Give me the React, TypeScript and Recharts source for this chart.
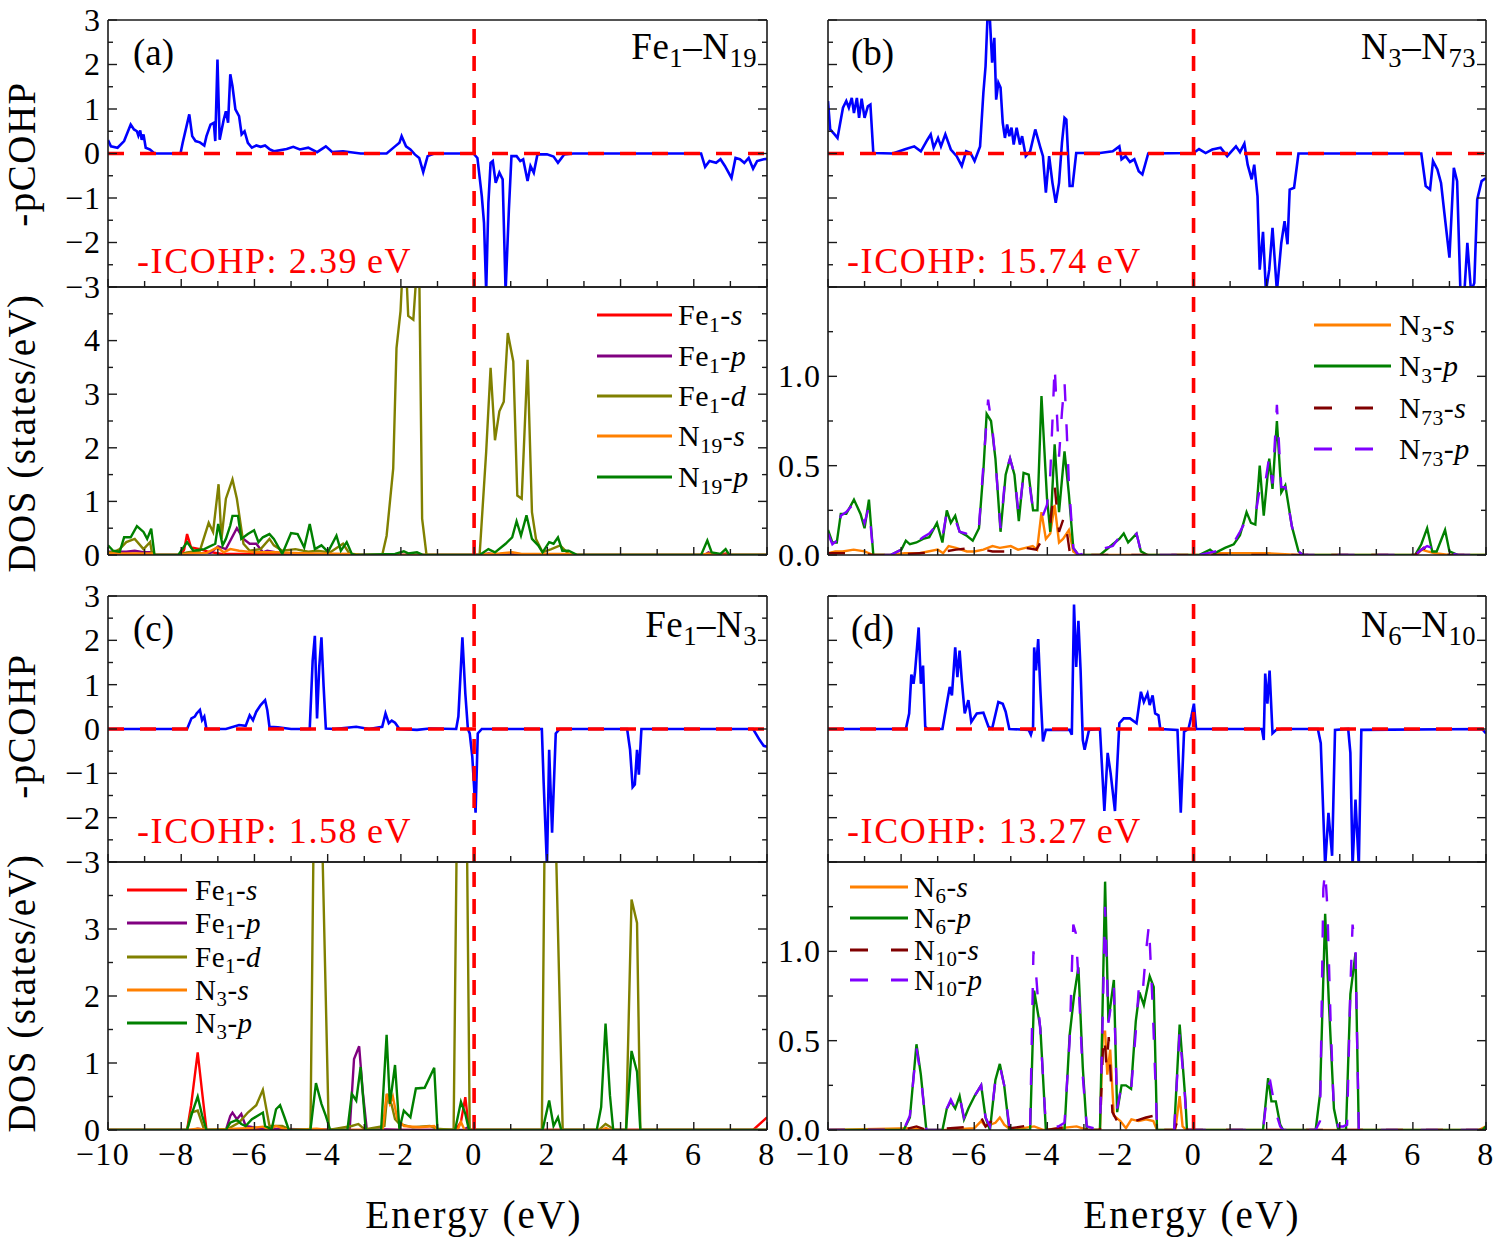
import React from 'react';
import { LineChart, Line, XAxis, YAxis, ReferenceLine } from 'recharts';

type Pt = [number, number];

// ---------- data (energy eV, value) ----------
const X_TICKS = [-10, -9, -8, -7, -6, -5, -4, -3, -2, -1, 0, 1, 2, 3, 4, 5, 6, 7, 8];
const COHP_TICKS = [-3, -2.5, -2, -1.5, -1, -0.5, 0, 0.5, 1, 1.5, 2, 2.5, 3];
const COHP_MAJOR = [-3, -2, -1, 0, 1, 2, 3];
const DOS_A_TICKS = [0, 0.5, 1, 1.5, 2, 2.5, 3, 3.5, 4, 4.5, 5];
const DOS_A_LABELS = [0, 1, 2, 3, 4];
const DOS_C_TICKS = [0, 0.5, 1, 1.5, 2, 2.5, 3, 3.5, 4];
const DOS_C_LABELS = [0, 1, 2, 3];
const DOS_N_TICKS = [0, 0.25, 0.5, 0.75, 1, 1.25, 1.5];
const DOS_N_MAJOR = [0, 0.5, 1, 1.5];
const DOS_N_LABELS = [0, 0.5, 1];

const COHP_A: Pt[] = [[-10,0.30],[-9.92,0.16],[-9.74,0.13],[-9.56,0.28],[-9.38,0.65],[-9.29,0.54],[-9.21,0.50],[-9.17,0.40],[-9.12,0.52],[-9.08,0.31],[-9.03,0.43],[-8.97,0.13],[-8.85,0.09],[-8.73,0],[-8.02,0],[-7.96,0.24],[-7.78,0.88],[-7.70,0.39],[-7.61,0.28],[-7.49,0.25],[-7.37,0.18],[-7.31,0.39],[-7.20,0.65],[-7.11,0.69],[-7.07,0.28],[-7.01,2.11],[-6.95,0.31],[-6.84,0.76],[-6.78,0.95],[-6.72,0.69],[-6.66,1.78],[-6.60,1.51],[-6.52,0.99],[-6.42,0.84],[-6.35,0.43],[-6.27,0.50],[-6.18,0.24],[-6.07,0.13],[-5.95,0.18],[-5.83,0.15],[-5.71,0.18],[-5.59,0.10],[-5.47,0.05],[-5.12,0.10],[-4.94,0.15],[-4.76,0.09],[-4.53,0.13],[-4.29,0.03],[-4.05,0.16],[-3.87,0.03],[-3.58,0.05],[-3.10,0],[-2.39,0],[-2.16,0.16],[-2.04,0.24],[-1.98,0.39],[-1.86,0.16],[-1.74,0.09],[-1.62,-0.02],[-1.50,-0.10],[-1.39,-0.42],[-1.27,-0.06],[-1.09,0],[-0.02,0],[0.09,-0.10],[0.21,-0.96],[0.27,-1.56],[0.33,-3.1],[0.39,-1.11],[0.45,-0.21],[0.51,-0.17],[0.59,-0.66],[0.69,-0.43],[0.78,-0.58],[0.86,-3.1],[0.95,-1.26],[1.02,-0.06],[1.16,-0.06],[1.26,-0.17],[1.34,-0.13],[1.46,-0.62],[1.54,-0.28],[1.63,-0.43],[1.73,-0.02],[1.99,-0.02],[2.17,-0.07],[2.29,-0.21],[2.46,-0.02],[2.70,0],[6.20,0],[6.31,-0.30],[6.43,-0.17],[6.61,-0.21],[6.73,-0.13],[6.85,-0.28],[7.03,-0.55],[7.14,-0.10],[7.26,-0.13],[7.38,-0.21],[7.50,-0.10],[7.62,-0.34],[7.73,-0.17],[7.91,-0.13],[8.0,-0.12]];

const COHP_B: Pt[] = [[-10,1.18],[-9.94,0.54],[-9.82,0.43],[-9.74,0.35],[-9.65,0.76],[-9.59,1.03],[-9.50,1.18],[-9.43,1.03],[-9.35,1.25],[-9.29,0.91],[-9.21,1.25],[-9.15,0.80],[-9.08,1.23],[-9.00,0.80],[-8.91,1.06],[-8.84,1.10],[-8.76,0.01],[-8.23,0],[-7.87,0.10],[-7.64,0.16],[-7.46,0.05],[-7.28,0.31],[-7.19,0.43],[-7.11,0.13],[-6.99,0.35],[-6.91,0.16],[-6.79,0.43],[-6.64,0.09],[-6.48,-0.06],[-6.34,-0.28],[-6.22,0.05],[-6.10,0.01],[-5.99,-0.17],[-5.84,0.16],[-5.75,1.36],[-5.69,1.96],[-5.63,3.2],[-5.57,3.0],[-5.51,2.04],[-5.45,2.60],[-5.40,1.21],[-5.34,1.59],[-5.28,1.48],[-5.22,0.69],[-5.16,0.35],[-5.10,0.65],[-5.04,0.39],[-4.98,0.58],[-4.92,0.20],[-4.84,0.58],[-4.75,0.20],[-4.69,0.39],[-4.59,-0.06],[-4.47,0.05],[-4.33,0.54],[-4.19,0.13],[-4.12,-0.06],[-4.04,-0.88],[-3.95,-0.06],[-3.86,-0.66],[-3.77,-1.11],[-3.68,-0.66],[-3.60,0.24],[-3.53,0.80],[-3.48,0.76],[-3.39,-0.73],[-3.31,-0.73],[-3.21,0.01],[-2.56,0.01],[-2.21,0.05],[-2.03,0.16],[-1.97,-0.13],[-1.86,-0.06],[-1.74,-0.19],[-1.62,-0.13],[-1.50,-0.40],[-1.40,-0.47],[-1.24,0],[0,0.01],[0.15,0.10],[0.33,0.01],[0.51,0.09],[0.74,0.13],[0.92,-0.06],[1.16,0.16],[1.27,0.03],[1.39,0.22],[1.48,-0.25],[1.59,-0.58],[1.66,-0.25],[1.75,-0.96],[1.81,-2.61],[1.90,-1.76],[1.98,-3.1],[2.07,-2.61],[2.16,-1.67],[2.28,-3.1],[2.40,-2.01],[2.49,-1.52],[2.57,-2.04],[2.63,-0.81],[2.75,-0.77],[2.87,0],[6.23,0],[6.35,-0.73],[6.47,-0.81],[6.55,-0.17],[6.67,-0.36],[6.77,-0.66],[6.86,-1.33],[7.00,-2.34],[7.12,-0.32],[7.21,-0.62],[7.30,-3.1],[7.41,-3.1],[7.49,-2.01],[7.59,-3.1],[7.68,-2.91],[7.76,-1.03],[7.88,-0.62],[8.0,-0.55]];

const COHP_C: Pt[] = [[-10,0],[-7.84,0],[-7.72,0.24],[-7.63,0.28],[-7.58,0.35],[-7.49,0.43],[-7.43,0.20],[-7.37,0.28],[-7.31,0],[-6.78,0],[-6.42,0.09],[-6.24,0.07],[-6.13,0.31],[-6.04,0.20],[-5.95,0.39],[-5.83,0.54],[-5.71,0.65],[-5.65,0.43],[-5.59,0.05],[-5.36,0.04],[-5.00,0],[-4.49,0],[-4.41,1.54],[-4.35,2.10],[-4.29,0.24],[-4.23,1.40],[-4.17,2.07],[-4.11,0.95],[-4.05,0.01],[-3.82,0],[-3.22,0.05],[-2.87,0],[-2.51,0.05],[-2.42,0.35],[-2.33,0.13],[-2.25,0.19],[-2.16,0.14],[-2.04,0],[-1.56,-0.02],[-1.21,0.01],[-0.49,0],[-0.43,0.28],[-0.32,2.07],[-0.24,0.80],[-0.17,0],[-0.12,-0.10],[-0.05,-0.62],[0.04,-1.89],[0.10,-0.10],[0.21,0],[1.85,0],[1.90,-1.22],[1.99,-3.1],[2.05,-0.47],[2.13,-2.34],[2.23,-0.10],[2.34,0],[4.18,0],[4.26,-0.47],[4.33,-1.31],[4.39,-1.25],[4.45,-0.47],[4.50,-1.03],[4.57,0],[7.62,0],[7.80,-0.25],[7.91,-0.38],[8.0,-0.40]];

const COHP_D: Pt[] = [[-10,0],[-7.87,0],[-7.78,0.35],[-7.72,1.23],[-7.66,1.02],[-7.62,1.28],[-7.52,2.29],[-7.46,1.02],[-7.40,1.43],[-7.34,0.05],[-7.28,0],[-6.87,0],[-6.75,0.57],[-6.67,0.95],[-6.61,0.76],[-6.52,1.84],[-6.46,1.17],[-6.40,1.77],[-6.34,1.10],[-6.26,0.35],[-6.16,0.65],[-6.08,0.16],[-5.93,0.35],[-5.75,0.37],[-5.61,0.05],[-5.51,0.01],[-5.34,0.61],[-5.22,0.57],[-5.14,0.39],[-5.04,0],[-4.51,-0.02],[-4.45,-0.13],[-4.39,0.05],[-4.36,1.84],[-4.31,1.32],[-4.25,2.03],[-4.19,0.87],[-4.12,-0.28],[-4.04,-0.02],[-3.39,-0.02],[-3.33,-0.13],[-3.27,2.81],[-3.21,1.40],[-3.15,2.44],[-3.09,1.32],[-3.03,-0.25],[-2.98,-0.47],[-2.86,-0.02],[-2.56,0],[-2.44,-1.85],[-2.35,-0.54],[-2.27,-0.99],[-2.15,-1.85],[-2.03,0.13],[-1.91,0.24],[-1.74,0.24],[-1.56,0.13],[-1.44,0.84],[-1.36,0.61],[-1.26,0.80],[-1.20,0.54],[-1.12,0.76],[-1.05,0.35],[-0.96,0.31],[-0.91,0],[-0.44,-0.02],[-0.35,-1.89],[-0.26,-0.06],[-0.14,0],[-0.06,0.28],[0.01,0.57],[0.07,0],[1.87,0],[1.92,-0.25],[1.96,1.25],[2.02,0.57],[2.08,1.32],[2.16,-0.10],[2.26,-0.02],[2.40,0],[3.40,0],[3.48,-0.32],[3.60,-3.1],[3.69,-1.89],[3.79,-2.86],[3.87,-0.02],[4.23,0],[4.29,-0.54],[4.35,-3.1],[4.43,-1.59],[4.52,-3.1],[4.59,-0.02],[7.89,0],[8.0,-0.10]];

// DOS (a)
const FE_S_A: Pt[] = [[-10,0.02],[-8.8,0.02],[-8.73,0],[-8.0,0],[-7.92,0.1],[-7.84,0.39],[-7.73,0.14],[-7.49,0.11],[-7.25,0.06],[-6.9,0.02],[-6.0,0.02],[-5.2,0.01],[-3.3,0],[6.3,0],[6.45,0.04],[6.6,0],[6.9,0.03],[7.0,0],[8,0]];
const FE_P_A: Pt[] = [[-10,0.06],[-9.5,0.06],[-9.27,0.08],[-9.0,0.05],[-8.8,0.05],[-8.73,0],[-8.0,0],[-7.8,0.03],[-7.2,0.04],[-6.99,0.16],[-6.78,0.11],[-6.48,0.50],[-6.30,0.30],[-6.13,0.21],[-5.95,0.21],[-5.77,0.05],[-5.65,0.08],[-5.24,0.03],[-4.5,0.02],[-3.3,0],[0.2,0],[0.4,0.03],[0.6,0],[1.0,0.03],[1.2,0],[6.3,0],[6.4,0.05],[6.55,0],[8,0]];
const FE_D_A: Pt[] = [[-10,0.05],[-9.86,0.05],[-9.68,0.11],[-9.50,0.24],[-9.27,0.30],[-9.03,0.11],[-8.85,0.24],[-8.79,0],[-8.08,0],[-7.84,0.05],[-7.49,0.08],[-7.25,0.60],[-7.13,0.43],[-6.98,1.32],[-6.90,0.30],[-6.78,1.05],[-6.60,1.41],[-6.48,1.05],[-6.30,0.21],[-6.13,0.08],[-5.83,0.11],[-5.59,0.30],[-5.47,0.18],[-5.24,0.08],[-4.88,0.11],[-4.53,0.06],[-4.29,0.08],[-3.93,0.05],[-3.58,0.21],[-3.40,0.02],[-3.10,0],[-2.51,0],[-2.39,0.36],[-2.21,1.61],[-2.12,3.86],[-2.01,4.55],[-1.95,5.4],[-1.86,5.4],[-1.80,4.46],[-1.66,4.39],[-1.56,5.4],[-1.50,5.4],[-1.42,0.68],[-1.30,0],[0.15,0],[0.33,1.93],[0.45,3.49],[0.57,2.14],[0.69,2.68],[0.81,2.86],[0.92,4.14],[1.07,3.61],[1.18,1.11],[1.30,1.05],[1.46,3.64],[1.58,0.80],[1.69,0.30],[1.87,0.05],[2.11,0.11],[2.35,0.18],[2.58,0.02],[2.82,0],[8,0]];
const N19_S_A: Pt[] = [[-10,0.03],[-8.8,0.03],[-8.73,0],[-8.0,0],[-7.8,0.03],[-7.3,0.04],[-7.01,0.14],[-6.84,0.05],[-6.66,0.11],[-6.42,0.08],[-6.0,0.05],[-5.47,0.05],[-4.5,0.03],[-3.3,0.02],[-3.1,0],[0.15,0],[0.3,0.02],[0.7,0.03],[1.04,0.05],[1.3,0.02],[2.6,0.02],[2.8,0],[6.2,0],[6.4,0.03],[6.6,0],[8,0]];
const N19_P_A: Pt[] = [[-10,0.18],[-9.86,0.08],[-9.68,0.06],[-9.56,0.33],[-9.38,0.33],[-9.21,0.54],[-9.03,0.43],[-8.93,0.30],[-8.82,0.49],[-8.73,0],[-8.08,0],[-7.84,0.24],[-7.67,0.08],[-7.37,0.11],[-7.07,0.21],[-6.99,0.58],[-6.87,0.18],[-6.78,0.30],[-6.66,0.55],[-6.60,0.73],[-6.45,0.73],[-6.36,0.30],[-6.18,0.39],[-6.01,0.46],[-5.89,0.24],[-5.77,0.33],[-5.59,0.39],[-5.47,0.30],[-5.24,0.02],[-5.00,0.41],[-4.82,0.39],[-4.64,0.14],[-4.49,0.58],[-4.35,0.11],[-4.17,0.18],[-3.99,0.06],[-3.76,0.36],[-3.64,0.08],[-3.48,0.24],[-3.34,0.02],[-3.22,0],[-2.16,0.02],[-1.92,0.07],[-1.80,0.03],[-1.56,0.05],[-1.39,0],[0.15,0],[0.39,0.11],[0.57,0.05],[0.86,0.21],[1.04,0.33],[1.16,0.63],[1.28,0.36],[1.43,0.74],[1.58,0.30],[1.75,0.18],[1.87,0.05],[2.05,0.24],[2.17,0.21],[2.29,0.33],[2.41,0.08],[2.58,0.08],[2.82,0],[6.20,0],[6.37,0.27],[6.49,0.05],[6.73,0.02],[6.87,0.11],[6.97,0],[8,0]];

// DOS (b)
const N3_S_B: Pt[] = [[-10,0.01],[-9.8,0.02],[-9.6,0.02],[-9.3,0.03],[-9.0,0.02],[-8.76,0],[-8.3,0],[-7.9,0.01],[-7.5,0.01],[-7.0,0.03],[-6.85,0.01],[-6.7,0.05],[-6.5,0.04],[-6.2,0.02],[-6.0,0.02],[-5.75,0.03],[-5.5,0.05],[-5.3,0.04],[-5.0,0.05],[-4.8,0.03],[-4.6,0.04],[-4.4,0.05],[-4.28,0.03],[-4.16,0.24],[-4.04,0.09],[-3.92,0.12],[-3.80,0.28],[-3.68,0.07],[-3.57,0.09],[-3.41,0.14],[-3.29,0.02],[-3.15,0],[0.15,0],[0.5,0.01],[1.0,0.01],[2.0,0.01],[2.9,0],[6.1,0],[6.23,0.03],[6.4,0.02],[6.6,0.01],[7.0,0],[8,0]];
const N3_P_B: Pt[] = [[-10,0.14],[-9.88,0.07],[-9.76,0.07],[-9.65,0.23],[-9.50,0.23],[-9.29,0.31],[-9.11,0.23],[-9.00,0.15],[-8.88,0.31],[-8.76,0],[-8.29,0],[-7.99,0.03],[-7.87,0.08],[-7.76,0.06],[-7.58,0.07],[-7.40,0.09],[-7.23,0.10],[-7.02,0.18],[-6.87,0.07],[-6.75,0.25],[-6.64,0.18],[-6.52,0.22],[-6.40,0.13],[-6.22,0.11],[-6.04,0.08],[-5.87,0.15],[-5.75,0.47],[-5.66,0.79],[-5.54,0.75],[-5.42,0.54],[-5.28,0.13],[-5.14,0.45],[-5.02,0.54],[-4.90,0.45],[-4.78,0.19],[-4.65,0.46],[-4.51,0.45],[-4.39,0.25],[-4.27,0.25],[-4.16,0.89],[-4.01,0.32],[-3.92,0.13],[-3.80,0.62],[-3.68,0.24],[-3.53,0.58],[-3.41,0.34],[-3.29,0.04],[-3.15,0],[-2.56,0],[-2.21,0.06],[-2.03,0.09],[-1.91,0.12],[-1.79,0.07],[-1.56,0.12],[-1.44,0.02],[-1.26,0],[0.15,0],[0.45,0.03],[0.57,0.01],[0.86,0.04],[1.10,0.06],[1.27,0.11],[1.45,0.24],[1.57,0.18],[1.69,0.17],[1.81,0.50],[1.92,0.22],[2.07,0.54],[2.16,0.37],[2.28,0.75],[2.40,0.35],[2.51,0.39],[2.69,0.16],[2.87,0.02],[2.99,0],[6.06,0],[6.23,0.06],[6.39,0.15],[6.53,0.02],[6.65,0.02],[6.88,0.14],[7.00,0.02],[7.24,0],[8,0]];
const N73_S_B: Pt[] = [[-10,0.01],[-9.3,0.01],[-8.76,0],[-8.3,0],[-7.5,0.01],[-6.8,0.02],[-6.5,0.03],[-6.0,0.04],[-5.5,0.02],[-5.0,0.02],[-4.6,0.04],[-4.3,0.03],[-4.05,0.12],[-3.92,0.18],[-3.80,0.39],[-3.68,0.13],[-3.53,0.22],[-3.39,0.02],[-3.2,0],[6.06,0],[6.3,0.04],[6.45,0.02],[6.7,0.01],[7.0,0],[8,0]];
const N73_P_B: Pt[] = [[-10,0.12],[-9.88,0.06],[-9.76,0.08],[-9.65,0.22],[-9.5,0.24],[-9.29,0.29],[-9.11,0.25],[-9.0,0.18],[-8.88,0.27],[-8.76,0],[-8.29,0],[-7.99,0.03],[-7.87,0.05],[-7.58,0.07],[-7.40,0.10],[-7.23,0.12],[-7.02,0.17],[-6.87,0.10],[-6.75,0.24],[-6.64,0.19],[-6.52,0.20],[-6.40,0.13],[-6.22,0.12],[-6.04,0.09],[-5.87,0.16],[-5.75,0.50],[-5.62,0.87],[-5.50,0.70],[-5.42,0.53],[-5.28,0.15],[-5.14,0.46],[-5.02,0.54],[-4.90,0.45],[-4.78,0.22],[-4.65,0.45],[-4.51,0.43],[-4.39,0.25],[-4.27,0.22],[-4.16,0.20],[-4.01,0.28],[-3.92,0.45],[-3.86,0.75],[-3.80,1.06],[-3.74,0.80],[-3.68,0.55],[-3.60,0.80],[-3.53,0.97],[-3.47,0.70],[-3.41,0.40],[-3.29,0.04],[-3.15,0],[-2.21,0.05],[-2.03,0.10],[-1.91,0.11],[-1.79,0.08],[-1.56,0.12],[-1.44,0.02],[-1.26,0],[0.15,0],[0.6,0.02],[0.86,0.05],[1.10,0.07],[1.27,0.13],[1.45,0.20],[1.57,0.20],[1.69,0.22],[1.81,0.37],[1.92,0.35],[2.07,0.55],[2.16,0.40],[2.28,0.84],[2.40,0.38],[2.51,0.38],[2.69,0.16],[2.87,0.02],[2.99,0],[6.06,0],[6.23,0.03],[6.39,0.05],[6.53,0.04],[6.7,0.03],[6.88,0.02],[7.0,0.01],[7.24,0],[8,0]];

// DOS (c)
const FE_S_C: Pt[] = [[-10,0],[-7.84,0],[-7.73,0.37],[-7.55,1.16],[-7.43,0.57],[-7.31,0],[-0.5,0],[-0.36,0.12],[-0.24,0.49],[-0.14,0],[7.62,0],[8.0,0.19]];
const FE_P_C: Pt[] = [[-10,0],[-7.7,0],[-7.55,0.02],[-7.3,0],[-6.78,0],[-6.66,0.21],[-6.60,0.26],[-6.48,0.16],[-6.36,0.24],[-6.24,0.06],[-5.8,0.02],[-3.40,0],[-3.28,1.06],[-3.14,1.25],[-3.04,0.56],[-2.93,0],[-2.4,0.01],[-2.0,0],[-0.3,0],[-0.2,0.03],[-0.1,0],[8,0]];
const FE_D_C: Pt[] = [[-10,0],[-7.84,0],[-7.73,0.26],[-7.55,0.29],[-7.37,0],[-6.78,0],[-6.42,0.11],[-6.18,0.26],[-5.95,0.37],[-5.77,0.60],[-5.59,0.06],[-5.24,0.06],[-5.0,0],[-4.47,0],[-4.38,4.6],[-4.16,4.6],[-3.97,0],[-3.34,0.06],[-3.16,0.09],[-2.99,0.01],[-2.45,0.06],[-2.37,0.54],[-2.25,0.37],[-2.16,0.16],[-2.04,0.09],[-1.68,0.04],[-1.21,0.06],[-1.03,0.02],[-0.56,0],[-0.47,4.6],[-0.2,4.6],[-0.12,0],[1.85,0],[1.93,4.6],[2.22,4.6],[2.42,0],[3.41,0],[3.59,0.09],[3.71,0.05],[3.82,0],[4.15,0],[4.30,3.44],[4.45,3.09],[4.54,0],[8,0]];
const N3_S_C: Pt[] = [[-10,0],[-7.84,0],[-7.55,0.02],[-7.3,0],[-6.5,0.02],[-6.07,0.03],[-5.77,0.05],[-5.6,0.01],[-5.41,0.06],[-5.2,0.02],[-5.0,0],[-4.3,0.02],[-4.0,0],[-2.5,0],[-2.39,0.54],[-2.30,0.39],[-2.22,0.50],[-2.10,0.17],[-1.92,0.06],[-1.5,0.04],[-1.09,0.06],[-1.0,0],[-0.45,0],[-0.36,0.12],[-0.26,0],[3.5,0],[3.6,0.03],[3.7,0],[8,0]];
const N3_P_C: Pt[] = [[-10,0],[-7.84,0],[-7.70,0.26],[-7.55,0.50],[-7.43,0.22],[-7.31,0],[-6.78,0],[-6.66,0.11],[-6.48,0.15],[-6.36,0.09],[-6.24,0.06],[-6.07,0.16],[-5.77,0.26],[-5.71,0.06],[-5.53,0.01],[-5.41,0.31],[-5.30,0.37],[-5.18,0.19],[-5.06,0],[-4.47,0],[-4.32,0.70],[-4.17,0.39],[-4.05,0.21],[-3.93,0],[-3.46,0],[-3.34,0.54],[-3.22,0.44],[-3.10,0.94],[-2.96,0],[-2.54,0],[-2.39,1.42],[-2.30,0.39],[-2.16,0.97],[-2.04,0.01],[-1.92,0.29],[-1.74,0.19],[-1.59,0.62],[-1.35,0.63],[-1.09,0.93],[-1.00,0],[-0.52,0],[-0.36,0.42],[-0.24,0.24],[-0.14,0],[1.87,0],[2.05,0.44],[2.17,0.06],[2.29,0.19],[2.38,0],[3.35,0],[3.47,0.34],[3.59,1.59],[3.71,0.52],[3.80,0],[4.15,0],[4.30,1.18],[4.45,0.87],[4.54,0],[8,0]];

// DOS (d)
const N6_S_D: Pt[] = [[-10,0],[-7.7,0.01],[-7.3,0],[-6.8,0],[-6.0,0.01],[-5.81,0.05],[-5.69,0.02],[-5.42,0.04],[-5.30,0.07],[-5.18,0.03],[-5.0,0],[-4.36,0.02],[-4.1,0],[-3.2,0.02],[-2.9,0],[-2.56,0],[-2.48,0.55],[-2.42,0.55],[-2.36,0.31],[-2.28,0.45],[-2.18,0.08],[-2.0,0.05],[-1.85,0.01],[-1.7,0.06],[-1.5,0.05],[-1.3,0.06],[-1.1,0.05],[-1.0,0],[-0.5,0],[-0.38,0.19],[-0.3,0.02],[-0.2,0],[7.8,0],[8.0,0.02]];
const N6_P_D: Pt[] = [[-10,0],[-7.93,0],[-7.76,0.07],[-7.58,0.48],[-7.46,0.31],[-7.31,0],[-6.87,0],[-6.75,0.12],[-6.64,0.16],[-6.52,0.12],[-6.40,0.19],[-6.28,0.06],[-6.16,0.12],[-5.99,0.19],[-5.81,0.25],[-5.69,0.07],[-5.57,0],[-5.42,0.28],[-5.30,0.37],[-5.18,0.25],[-5.04,0],[-4.47,0],[-4.36,0.78],[-4.19,0.57],[-4.04,0],[-3.53,0],[-3.39,0.53],[-3.27,0.75],[-3.15,0.91],[-3.03,0.35],[-2.92,0],[-2.56,0],[-2.50,0.57],[-2.42,1.39],[-2.33,0.61],[-2.18,0.84],[-2.09,0.10],[-1.97,0.25],[-1.85,0.25],[-1.71,0.23],[-1.58,0.61],[-1.48,0.77],[-1.36,0.70],[-1.20,0.86],[-1.09,0.80],[-1.00,0],[-0.53,0],[-0.38,0.59],[-0.22,0.16],[-0.18,0],[1.90,0],[2.04,0.29],[2.13,0.16],[2.25,0.16],[2.37,0.03],[2.45,0],[3.34,0],[3.46,0.20],[3.60,1.21],[3.70,0.72],[3.84,0.12],[3.96,0],[4.17,0],[4.29,0.76],[4.43,0.99],[4.52,0],[7.9,0],[8.0,0.02]];
const N10_S_D: Pt[] = [[-10,0],[-7.9,0],[-7.76,0.01],[-7.58,0.02],[-7.3,0],[-6.0,0.02],[-5.81,0.07],[-5.69,0.02],[-5.42,0.07],[-5.30,0.08],[-5.0,0.01],[-4.36,0.03],[-4.19,0.02],[-4.0,0],[-3.4,0.02],[-3.15,0.02],[-2.9,0],[-2.56,0],[-2.48,0.45],[-2.44,0.53],[-2.38,0.35],[-2.32,0.52],[-2.22,0.10],[-2.09,0.05],[-1.8,0.02],[-1.6,0.05],[-1.3,0.07],[-1.09,0.08],[-1.0,0],[-0.53,0],[-0.38,0.08],[-0.25,0.02],[-0.15,0],[8,0]];
const N10_P_D: Pt[] = [[-10,0],[-7.93,0],[-7.76,0.08],[-7.58,0.46],[-7.46,0.30],[-7.31,0],[-6.87,0],[-6.75,0.12],[-6.64,0.17],[-6.52,0.12],[-6.40,0.19],[-6.28,0.07],[-6.16,0.12],[-5.99,0.19],[-5.81,0.25],[-5.69,0.07],[-5.57,0.02],[-5.42,0.28],[-5.30,0.36],[-5.18,0.25],[-5.04,0.02],[-4.6,0.01],[-4.47,0.02],[-4.38,1.0],[-4.3,0.85],[-4.19,0.55],[-4.04,0.02],[-3.7,0.02],[-3.53,0.04],[-3.39,0.5],[-3.29,1.15],[-3.22,1.1],[-3.15,0.85],[-3.03,0.3],[-2.92,0.02],[-2.56,0],[-2.50,0.5],[-2.42,1.25],[-2.33,0.6],[-2.18,0.8],[-2.09,0.12],[-1.97,0.25],[-1.85,0.25],[-1.71,0.22],[-1.58,0.55],[-1.48,0.85],[-1.38,0.8],[-1.3,1.0],[-1.22,1.15],[-1.12,0.7],[-1.0,0.02],[-0.53,0],[-0.38,0.55],[-0.24,0.2],[-0.18,0],[1.9,0],[2.04,0.25],[2.1,0.27],[2.25,0.1],[2.37,0.02],[2.45,0],[3.34,0],[3.46,0.05],[3.55,1.35],[3.6,1.45],[3.66,1.25],[3.75,0.6],[3.84,0.1],[3.96,0.02],[4.1,0.02],[4.2,0.03],[4.29,0.8],[4.35,1.15],[4.43,1.0],[4.52,0],[8,0]];

// ---------- styling ----------
const FONT = 'Liberation Serif, DejaVu Serif, serif';
const FRAME = '#1a1a1a';
const C_BLUE = '#0000ff';
const C_RED = '#ff0000';
const C_PURPLE = '#800080';
const C_OLIVE = '#808000';
const C_ORANGE = '#ff8000';
const C_GREEN = '#008000';
const C_MAROON = '#800000';
const C_VIOLET = '#8000ff';
const DASH = '17 23';

interface Series { key: string; color: string; dash?: boolean; data: Pt[]; width?: number }

const toRows = (pts: Pt[]) => pts.map(([e, v]) => ({ e, v }));
const fmtInt = (v: number) => (v < 0 ? '\u2212' + Math.abs(v) : String(v));
const fmt1 = (v: number) => v.toFixed(1);
const has = (arr: number[], v: number) => arr.some((m) => Math.abs(m - v) < 1e-9);
const serif = (size: number, extra: React.CSSProperties = {}): React.CSSProperties => ({ fontFamily: FONT, fontSize: size, ...extra });

interface PanelProps {
  left: number; top: number; w: number; h: number;
  yDomain: [number, number]; yTicks: number[]; yMajor: number[]; yLabels: number[];
  yFmt: (v: number) => string; showX: boolean; series: Series[]; cohp: boolean;
}

function Panel(p: PanelProps) {
  const ML = 110, MR = 12, MT = 26, MB = 70;
  const axisLine = { stroke: FRAME, strokeWidth: 1.6 };
  const xTick = (t: any) => {
    const v = t.payload.value as number;
    const major = v % 2 === 0;
    return (
      <g>
        <line x1={t.x} x2={t.x} y1={t.y} y2={t.y - (major ? 8 : 6)} stroke={FRAME} strokeWidth={1.4} />
        {p.showX && major ? (
          <text x={t.x - (v < 0 ? 5 : 0)} y={t.y + 35} textAnchor="middle" fill="#000" style={serif(32, { letterSpacing: 1.5 })}>
            {fmtInt(v)}
          </text>
        ) : null}
      </g>
    );
  };
  const yTickL = (t: any) => {
    const v = t.payload.value as number;
    const major = has(p.yMajor, v);
    return (
      <g>
        <line x1={t.x} x2={t.x + (major ? 9 : 5)} y1={t.y} y2={t.y} stroke={FRAME} strokeWidth={1.4} />
        {has(p.yLabels, v) ? (
          <text x={t.x - 7} y={t.y} dy="0.34em" textAnchor="end" fill="#000" style={serif(32, { letterSpacing: 1 })}>
            {p.yFmt(v)}
          </text>
        ) : null}
      </g>
    );
  };
  const yTickR = (t: any) => {
    const v = t.payload.value as number;
    const major = has(p.yMajor, v);
    return <line x1={t.x} x2={t.x - (major ? 9 : 5)} y1={t.y} y2={t.y} stroke={FRAME} strokeWidth={1.4} />;
  };
  return (
    <div style={{ position: 'absolute', left: p.left - ML, top: p.top - MT }}>
      <LineChart width={p.w + ML + MR} height={p.h + MT + MB} margin={{ top: 0, right: 0, bottom: 0, left: 0 }}>
        <XAxis xAxisId="b" orientation="bottom" type="number" dataKey="e" domain={[-10, 8]} ticks={X_TICKS} interval={0}
          allowDataOverflow height={MB} tickSize={0} tickMargin={0} tickLine={false} axisLine={axisLine} tick={xTick} />
        <XAxis xAxisId="t" orientation="top" type="number" dataKey="e" domain={[-10, 8]} height={MT} allowDataOverflow
          tick={false} tickLine={false} axisLine={axisLine} />
        <YAxis yAxisId="l" orientation="left" type="number" domain={p.yDomain} ticks={p.yTicks} interval={0} width={ML}
          allowDataOverflow tickSize={0} tickMargin={0} tickLine={false} axisLine={axisLine} tick={yTickL} />
        <YAxis yAxisId="r" orientation="right" type="number" domain={p.yDomain} ticks={p.yTicks} interval={0} width={MR}
          allowDataOverflow tickSize={0} tickMargin={0} tickLine={false} axisLine={axisLine} tick={yTickR} />
        {p.series.map((s) => (
          <Line key={s.key} xAxisId="b" yAxisId="l" data={toRows(s.data)} dataKey="v" type="linear" stroke={s.color}
            strokeWidth={s.width ?? 2.4} strokeDasharray={s.dash ? DASH : undefined} dot={false} activeDot={false}
            isAnimationActive={false} />
        ))}
        {p.cohp ? (
          <ReferenceLine xAxisId="b" yAxisId="l" y={0} stroke={C_RED} strokeWidth={3.6} strokeDasharray="16 16" />
        ) : null}
        <ReferenceLine xAxisId="b" yAxisId="l" x={0} stroke={C_RED} strokeWidth={3.6} strokeDasharray="15 12" />
      </LineChart>
    </div>
  );
}

// ---------- layout ----------
const LX = 108, LW = 659, RX = 828, RW = 658;
const R1T = 20, R1H = 267, D1T = 287, D1H = 268, R2T = 596, R2H = 266, D2T = 862, D2H = 268;

const SERIES_A: Series[] = [
  { key: 'fes', color: C_RED, data: FE_S_A },
  { key: 'fep', color: C_PURPLE, data: FE_P_A },
  { key: 'fed', color: C_OLIVE, data: FE_D_A },
  { key: 'ns', color: C_ORANGE, data: N19_S_A },
  { key: 'np', color: C_GREEN, data: N19_P_A },
];
const SERIES_B: Series[] = [
  { key: 'n3s', color: C_ORANGE, data: N3_S_B },
  { key: 'n3p', color: C_GREEN, data: N3_P_B },
  { key: 'n73s', color: C_MAROON, dash: true, data: N73_S_B },
  { key: 'n73p', color: C_VIOLET, dash: true, data: N73_P_B },
];
const SERIES_C: Series[] = [
  { key: 'fes', color: C_RED, data: FE_S_C },
  { key: 'fep', color: C_PURPLE, data: FE_P_C },
  { key: 'fed', color: C_OLIVE, data: FE_D_C },
  { key: 'ns', color: C_ORANGE, data: N3_S_C },
  { key: 'np', color: C_GREEN, data: N3_P_C },
];
const SERIES_D: Series[] = [
  { key: 'n6s', color: C_ORANGE, data: N6_S_D },
  { key: 'n6p', color: C_GREEN, data: N6_P_D },
  { key: 'n10s', color: C_MAROON, dash: true, data: N10_S_D },
  { key: 'n10p', color: C_VIOLET, dash: true, data: N10_P_D },
];

interface LegItem { el: string; sub: string; orb: string; color: string; dash?: boolean }
const LEG_A: LegItem[] = [
  { el: 'Fe', sub: '1', orb: 's', color: C_RED }, { el: 'Fe', sub: '1', orb: 'p', color: C_PURPLE },
  { el: 'Fe', sub: '1', orb: 'd', color: C_OLIVE }, { el: 'N', sub: '19', orb: 's', color: C_ORANGE },
  { el: 'N', sub: '19', orb: 'p', color: C_GREEN },
];
const LEG_B: LegItem[] = [
  { el: 'N', sub: '3', orb: 's', color: C_ORANGE }, { el: 'N', sub: '3', orb: 'p', color: C_GREEN },
  { el: 'N', sub: '73', orb: 's', color: C_MAROON, dash: true }, { el: 'N', sub: '73', orb: 'p', color: C_VIOLET, dash: true },
];
const LEG_C: LegItem[] = [
  { el: 'Fe', sub: '1', orb: 's', color: C_RED }, { el: 'Fe', sub: '1', orb: 'p', color: C_PURPLE },
  { el: 'Fe', sub: '1', orb: 'd', color: C_OLIVE }, { el: 'N', sub: '3', orb: 's', color: C_ORANGE },
  { el: 'N', sub: '3', orb: 'p', color: C_GREEN },
];
const LEG_D: LegItem[] = [
  { el: 'N', sub: '6', orb: 's', color: C_ORANGE }, { el: 'N', sub: '6', orb: 'p', color: C_GREEN },
  { el: 'N', sub: '10', orb: 's', color: C_MAROON, dash: true }, { el: 'N', sub: '10', orb: 'p', color: C_VIOLET, dash: true },
];

function Legend({ items, x1, x2, tx, ys, fs }: { items: LegItem[]; x1: number; x2: number; tx: number; ys: number[]; fs: number }) {
  return (
    <g>
      {items.map((it, i) => (
        <g key={i}>
          <line x1={x1} x2={x2} y1={ys[i]} y2={ys[i]} stroke={it.color} strokeWidth={3}
            strokeDasharray={it.dash ? '18 23' : undefined} />
          <text x={tx} y={ys[i] + fs * 0.34} fill="#000" style={serif(fs, { letterSpacing: 0.5 })}>
            {it.el}
            <tspan style={{ fontSize: fs * 0.72 }} dy={fs * 0.22}>{it.sub}</tspan>
            <tspan dy={-fs * 0.22}>-</tspan>
            <tspan style={{ fontStyle: 'italic' }}>{it.orb}</tspan>
          </text>
        </g>
      ))}
    </g>
  );
}

function BondTitle({ x, y, a, as, b, bs }: { x: number; y: number; a: string; as: string; b: string; bs: string }) {
  const fs = 37;
  return (
    <text x={x} y={y} textAnchor="end" fill="#000" style={serif(fs, { letterSpacing: 0.5 })}>
      {a}
      <tspan style={{ fontSize: fs * 0.72 }} dy={8}>{as}</tspan>
      <tspan dy={-8}>{'\u2013' + b}</tspan>
      <tspan style={{ fontSize: fs * 0.72 }} dy={8}>{bs}</tspan>
    </text>
  );
}

function Annotations() {
  const title = serif(39, { letterSpacing: 1.5 });
  const xtitle = serif(39, { letterSpacing: 2.2 });
  const letter = serif(37);
  const icohp = serif(36, { letterSpacing: 1.6 });
  return (
    <svg width={1496} height={1238} style={{ position: 'absolute', left: 0, top: 0, pointerEvents: 'none' }}>
      {/* y titles */}
      <text style={title} fill="#000" textAnchor="middle" transform="translate(35,154) rotate(-90)">-pCOHP</text>
      <text style={title} fill="#000" textAnchor="middle" transform="translate(35,433) rotate(-90)">DOS (states/eV)</text>
      <text style={title} fill="#000" textAnchor="middle" transform="translate(35,726) rotate(-90)">-pCOHP</text>
      <text style={title} fill="#000" textAnchor="middle" transform="translate(35,993) rotate(-90)">DOS (states/eV)</text>
      {/* x titles */}
      <text style={xtitle} fill="#000" textAnchor="middle" x={474} y={1228}>Energy (eV)</text>
      <text style={xtitle} fill="#000" textAnchor="middle" x={1192} y={1228}>Energy (eV)</text>
      {/* panel letters */}
      <text style={letter} fill="#000" x={133} y={65}>(a)</text>
      <text style={letter} fill="#000" x={851} y={65}>(b)</text>
      <text style={letter} fill="#000" x={133} y={641}>(c)</text>
      <text style={letter} fill="#000" x={851} y={641}>(d)</text>
      {/* bond titles */}
      <BondTitle x={757} y={59} a="Fe" as="1" b="N" bs="19" />
      <BondTitle x={1476} y={59} a="N" as="3" b="N" bs="73" />
      <BondTitle x={757} y={637} a="Fe" as="1" b="N" bs="3" />
      <BondTitle x={1476} y={637} a="N" as="6" b="N" bs="10" />
      {/* ICOHP */}
      <text style={icohp} fill={C_RED} x={137} y={273}>-ICOHP: 2.39{'\u2009'}eV</text>
      <text style={icohp} fill={C_RED} x={847} y={273}>-ICOHP: 15.74{'\u2009'}eV</text>
      <text style={icohp} fill={C_RED} x={137} y={843}>-ICOHP: 1.58{'\u2009'}eV</text>
      <text style={icohp} fill={C_RED} x={847} y={843}>-ICOHP: 13.27{'\u2009'}eV</text>
      {/* legends */}
      <Legend items={LEG_A} x1={597} x2={672} tx={678} ys={[315, 356, 396, 436, 477]} fs={30} />
      <Legend items={LEG_B} x1={1314} x2={1391} tx={1399} ys={[325, 366, 408, 449]} fs={30} />
      <Legend items={LEG_C} x1={127} x2={187} tx={195} ys={[890, 923, 957, 990, 1023]} fs={29} />
      <Legend items={LEG_D} x1={850} x2={908} tx={914} ys={[887, 918, 950, 980]} fs={29} />
    </svg>
  );
}

export default function App() {
  const cohpBlue = (key: string, data: Pt[]): Series[] => [{ key, color: C_BLUE, data, width: 2.6 }];
  return (
    <div style={{ position: 'absolute', left: 0, top: 0, width: 1496, height: 1238, background: '#fff', overflow: 'hidden' }}>
      <Panel left={LX} top={R1T} w={LW} h={R1H} yDomain={[-3, 3]} yTicks={COHP_TICKS} yMajor={COHP_MAJOR}
        yLabels={COHP_MAJOR} yFmt={fmtInt} showX={false} series={cohpBlue('a', COHP_A)} cohp />
      <Panel left={RX} top={R1T} w={RW} h={R1H} yDomain={[-3, 3]} yTicks={COHP_TICKS} yMajor={COHP_MAJOR}
        yLabels={[]} yFmt={fmtInt} showX={false} series={cohpBlue('b', COHP_B)} cohp />
      <Panel left={LX} top={D1T} w={LW} h={D1H} yDomain={[0, 5]} yTicks={DOS_A_TICKS} yMajor={[0, 1, 2, 3, 4, 5]}
        yLabels={DOS_A_LABELS} yFmt={fmtInt} showX={false} series={SERIES_A} cohp={false} />
      <Panel left={RX} top={D1T} w={RW} h={D1H} yDomain={[0, 1.5]} yTicks={DOS_N_TICKS} yMajor={DOS_N_MAJOR}
        yLabels={DOS_N_LABELS} yFmt={fmt1} showX={false} series={SERIES_B} cohp={false} />
      <Panel left={LX} top={R2T} w={LW} h={R2H} yDomain={[-3, 3]} yTicks={COHP_TICKS} yMajor={COHP_MAJOR}
        yLabels={COHP_MAJOR} yFmt={fmtInt} showX={false} series={cohpBlue('c', COHP_C)} cohp />
      <Panel left={RX} top={R2T} w={RW} h={R2H} yDomain={[-3, 3]} yTicks={COHP_TICKS} yMajor={COHP_MAJOR}
        yLabels={[]} yFmt={fmtInt} showX={false} series={cohpBlue('d', COHP_D)} cohp />
      <Panel left={LX} top={D2T} w={LW} h={D2H} yDomain={[0, 4]} yTicks={DOS_C_TICKS} yMajor={[0, 1, 2, 3, 4]}
        yLabels={DOS_C_LABELS} yFmt={fmtInt} showX series={SERIES_C} cohp={false} />
      <Panel left={RX} top={D2T} w={RW} h={D2H} yDomain={[0, 1.5]} yTicks={DOS_N_TICKS} yMajor={DOS_N_MAJOR}
        yLabels={DOS_N_LABELS} yFmt={fmt1} showX series={SERIES_D} cohp={false} />
      <Annotations />
    </div>
  );
}
